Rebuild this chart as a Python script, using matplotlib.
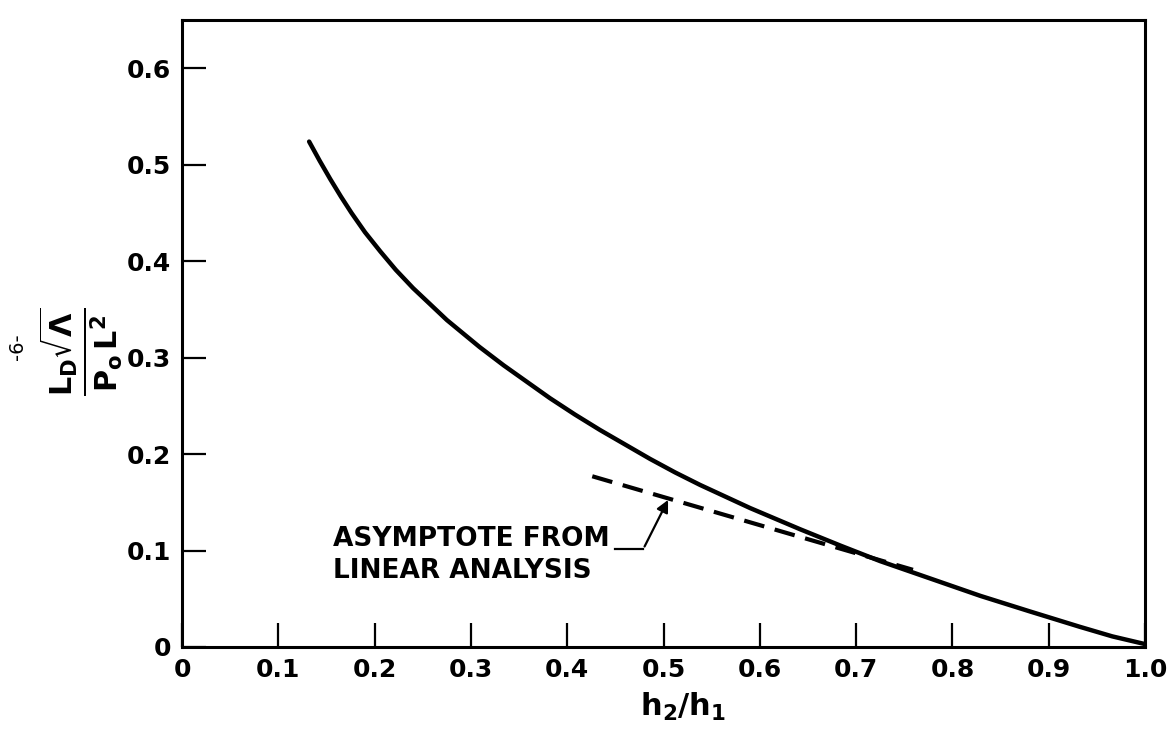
import matplotlib
matplotlib.use("Agg")
import matplotlib.pyplot as plt

# ---------------------------------------------------------------------------
# Data
# ---------------------------------------------------------------------------
ratio = [0.132, 0.143, 0.154, 0.165, 0.176, 0.190, 0.206, 0.222, 0.240,
         0.257, 0.275, 0.292, 0.309, 0.334, 0.358, 0.382, 0.408, 0.434,
         0.460, 0.486, 0.512, 0.538, 0.564, 0.590, 0.616, 0.642, 0.684,
         0.725, 0.777, 0.829, 0.880, 0.932, 0.966, 1.0]
drag = [0.524, 0.504, 0.485, 0.467, 0.450, 0.430, 0.410, 0.391, 0.372,
        0.356, 0.339, 0.325, 0.311, 0.292, 0.275, 0.258, 0.241, 0.225,
        0.210, 0.195, 0.181, 0.168, 0.156, 0.144, 0.133, 0.122, 0.105,
        0.089, 0.071, 0.053, 0.037, 0.021, 0.011, 0.003]

asym_x = [0.426, 0.759]
asym_y = [0.177, 0.080]

x_ticks = [0, 0.1, 0.2, 0.3, 0.4, 0.5, 0.6, 0.7, 0.8, 0.9, 1.0]
x_labels = ["0", "0.1", "0.2", "0.3", "0.4", "0.5", "0.6", "0.7", "0.8", "0.9", "1.0"]
y_ticks = [0, 0.1, 0.2, 0.3, 0.4, 0.5, 0.6]
y_labels = ["0", "0.1", "0.2", "0.3", "0.4", "0.5", "0.6"]

plt.rcParams["font.family"] = "DejaVu Sans"
plt.rcParams["font.weight"] = "bold"
plt.rcParams["mathtext.default"] = "bf"

fig = plt.figure(figsize=(11.69, 7.29), dpi=100)
ax = fig.add_axes([0.1557, 0.1125, 0.8238, 0.860])

ax.plot(ratio, drag, color="black", linewidth=3.2, solid_capstyle="round",
        solid_joinstyle="round")
ax.plot(asym_x, asym_y, color="black", linewidth=3.0, dashes=(5, 2.6))

ax.set_xlim(0, 1.0)
ax.set_ylim(0, 0.65)

for side in ["left", "bottom", "top", "right"]:
    ax.spines[side].set_linewidth(2.2)

ax.set_xticks(x_ticks)
ax.set_xticklabels(x_labels)
ax.set_yticks(y_ticks)
ax.set_yticklabels(y_labels)
ax.tick_params(direction="in", length=17, width=1.6, labelsize=18, pad=8)

# Annotation for the asymptote
ax.annotate("", xy=(0.506, 0.155), xytext=(0.479, 0.1016),
            arrowprops=dict(arrowstyle="-|>", color="black", lw=1.6,
                            mutation_scale=18))
ax.plot([0.450, 0.479], [0.1016, 0.1016], color="black", linewidth=1.6)
ax.text(0.157, 0.0955, "ASYMPTOTE FROM\nLINEAR ANALYSIS", fontsize=19,
        fontweight="bold", ha="left", va="center", linespacing=1.3)

ax.set_xlabel(r"$h_2/h_1$", fontsize=22, labelpad=6)
ax.xaxis.set_label_coords(0.52, -0.07)
fig.text(0.069, 0.518, r"$\frac{L_D\sqrt{\Lambda}}{P_o\,L^2}$", fontsize=31,
         rotation=90, ha="center", va="center")

fig.text(0.015, 0.524, "-6-", rotation=90, fontsize=14, ha="center",
         va="center", fontweight="normal")

fig.savefig("out.png", dpi=100)
